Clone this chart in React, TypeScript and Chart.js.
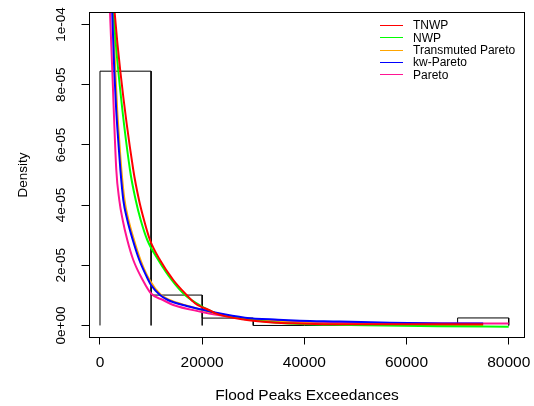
import React, { useEffect, useRef } from 'react';
import { Chart, registerables } from 'chart.js';

Chart.register(...registerables);

// ---- Data ----
const xTickValues = [0, 20000, 40000, 60000, 80000];
const yTickValues = [0, 2e-5, 4e-5, 6e-5, 8e-5, 1e-4];

const binEdges = [0, 10000, 20000, 30000, 40000, 50000, 60000, 70000, 80000];
const binDensity = [8.45e-5, 1.01e-5, 2.45e-6, 0, 0, 0, 0, 2.5e-6];

const tnwpX = [2623, 2858, 3974, 6518, 7634, 8613, 9787, 11744, 14346, 16967, 18592, 19961, 21527, 22506, 28377, 34835, 39140, 44620, 58710, 75000];
const tnwpY = [1.098e-4, 1.042e-4, 8.456e-5, 5.166e-5, 4.169e-5, 3.505e-5, 2.84e-5, 2.175e-5, 1.511e-5, 1.012e-5, 7.4e-6, 6.1e-6, 5.0e-6, 4.1e-6, 1.9e-6, 9.0e-7, 6.7e-7, 4.3e-7, 4.3e-7, 4.0e-7];

const nwpX = [2368, 2603, 3582, 5872, 6988, 7967, 9258, 11412, 14031, 16634, 19961, 22506, 25050, 31312, 39140, 48925, 66147, 80000];
const nwpY = [1.098e-4, 1.042e-4, 8.456e-5, 5.166e-5, 4.169e-5, 3.505e-5, 2.84e-5, 2.175e-5, 1.511e-5, 1.012e-5, 6.3e-6, 4.2e-6, 3.1e-6, 1.5e-6, 5e-7, 1.7e-7, -3e-7, -4e-7];

const tpX = [2447, 2545, 2995, 3367, 3758, 4189, 4796, 5578, 6655, 7927, 9689, 11940, 13601, 17225, 19961, 22506, 28377, 34835, 45011, 58710, 75000];
const tpY = [1.098e-4, 1.042e-4, 8.456e-5, 7.16e-5, 6.163e-5, 5.166e-5, 4.169e-5, 3.505e-5, 2.84e-5, 2.175e-5, 1.511e-5, 1.012e-5, 8.46e-6, 6.47e-6, 5.2e-6, 4.14e-6, 2.2e-6, 1.2e-6, 5e-7, 2.3e-7, 0];

const kwX = [2290, 2388, 2799, 3171, 3562, 3993, 4561, 5344, 6420, 7693, 9455, 9983, 11744, 13308, 16967, 19961, 22506, 28377, 34835, 39140, 46968, 56753, 69806, 75000];
const kwY = [1.098e-4, 1.042e-4, 8.456e-5, 7.16e-5, 6.163e-5, 5.166e-5, 4.169e-5, 3.505e-5, 2.84e-5, 2.175e-5, 1.511e-5, 1.345e-5, 1.012e-5, 8.46e-6, 6.47e-6, 5.3e-6, 4.31e-6, 2.6e-6, 1.9e-6, 1.6e-6, 1.33e-6, 9e-7, 6.7e-7, 6.7e-7];

const paretoX = [1840, 1957, 2408, 3191, 3778, 4443, 5344, 6518, 8358, 9983, 12332, 14348, 19961, 22506, 28377, 34835, 44620, 58710, 75000, 80000];
const paretoY = [1.098e-4, 1.042e-4, 8.456e-5, 5.166e-5, 4.169e-5, 3.505e-5, 2.84e-5, 2.175e-5, 1.511e-5, 1.062e-5, 8.46e-6, 6.8e-6, 4.5e-6, 3.64e-6, 2.3e-6, 1.66e-6, 1.0e-6, 7.7e-7, 6.7e-7, 6.7e-7];

const seriesLabels = ['TNWP', 'NWP', 'Transmuted Pareto', 'kw-Pareto', 'Pareto'];
const seriesColors = ['#ff0000', '#00ff00', '#ffa500', '#0000ff', '#ff1493'];
const seriesDrawOrder = [0, 2, 3, 1, 4];

const xTitle = 'Flood Peaks Exceedances';
const yTitle = 'Density';

const FONT = '"Liberation Sans", Arial, Helvetica, sans-serif';

function pts(xs: number[], ys: number[]) {
  return xs.map((x, i) => ({ x, y: ys[i] }));
}

function histOutline() {
  const out: { x: number; y: number }[] = [];
  for (let i = 0; i < binDensity.length; i++) {
    out.push({ x: binEdges[i], y: 0 });
    out.push({ x: binEdges[i], y: binDensity[i] });
    out.push({ x: binEdges[i + 1], y: binDensity[i] });
    out.push({ x: binEdges[i + 1], y: 0 });
  }
  return out;
}

function fmtExp(v: number) {
  const s = Number(v).toExponential(0);
  const [m, e] = s.split('e');
  const sign = e[0];
  const digits = e.slice(1).padStart(2, '0');
  return m + 'e' + sign + digits;
}

const boxAndLegend = {
  id: 'boxAndLegend',
  afterDraw(chart: any) {
    const { ctx, chartArea } = chart;
    ctx.save();
    ctx.strokeStyle = '#000';
    ctx.lineWidth = 1;
    ctx.strokeRect(chartArea.left, chartArea.top, chartArea.right - chartArea.left, chartArea.bottom - chartArea.top);

    const rowY0 = 25;
    const rowStep = 12.35;
    ctx.font = '12px ' + FONT;
    ctx.textBaseline = 'middle';
    ctx.textAlign = 'left';
    chart.data.datasets.forEach((ds: any) => {
      if (!ds.isCurve) return;
      const y = rowY0 + ds.legendIndex * rowStep;
      ctx.strokeStyle = ds.borderColor;
      ctx.lineWidth = 1;
      ctx.beginPath();
      ctx.moveTo(380, Math.round(y) + 0.5);
      ctx.lineTo(403, Math.round(y) + 0.5);
      ctx.stroke();
      ctx.fillStyle = '#000';
      ctx.fillText(ds.label, 413, y + 1);
    });
    ctx.restore();
  },
};

export default function App() {
  const ref = useRef<HTMLCanvasElement>(null);

  useEffect(() => {
    const curves = [
      pts(tnwpX, tnwpY),
      pts(nwpX, nwpY),
      pts(tpX, tpY),
      pts(kwX, kwY),
      pts(paretoX, paretoY),
    ];
    const datasets: any[] = curves.map((data, i) => ({
      label: seriesLabels[i],
      data,
      borderColor: seriesColors[i],
      backgroundColor: seriesColors[i],
      borderWidth: 2,
      pointRadius: 0,
      cubicInterpolationMode: 'monotone',
      fill: false,
      clip: 0,
      order: seriesDrawOrder[i],
      isCurve: true,
      legendIndex: i,
    }));
    datasets.push({
      label: 'hist',
      data: histOutline(),
      borderColor: '#000',
      borderWidth: 1,
      pointRadius: 0,
      tension: 0,
      fill: false,
      order: 10,
      isCurve: false,
    });

    const chart = new Chart(ref.current!, {
      type: 'line',
      data: { datasets },
      options: {
        animation: false,
        responsive: false,
        devicePixelRatio: 1,
        layout: { padding: { top: 12.5, right: 9.5, left: 0, bottom: 0 } },
        plugins: { legend: { display: false }, tooltip: { enabled: false } },
        scales: {
          x: {
            type: 'linear',
            min: -2055,
            max: 83093,
            afterBuildTicks: (s: any) => {
              s.ticks = xTickValues.map((v) => ({ value: v }));
            },
            afterFit: (s: any) => {
              s.height = 68.5;
              s.paddingLeft = 0;
              s.paddingRight = 0;
            },
            border: { display: false },
            grid: { display: true, drawOnChartArea: false, drawTicks: true, tickLength: 7, color: '#000', lineWidth: 1 },
            ticks: {
              autoSkip: false,
              maxRotation: 0,
              minRotation: 0,
              padding: 9,
              color: '#000',
              font: { family: FONT, size: 15.5 },
              callback: (v: any) => String(v),
            },
            title: {
              display: true,
              text: xTitle,
              color: '#000',
              font: { family: FONT, size: 15.5 },
              padding: { top: 0, bottom: 1.2 },
            },
          },
          y: {
            type: 'linear',
            min: -4e-6,
            max: 1.04e-4,
            afterBuildTicks: (s: any) => {
              s.ticks = yTickValues.map((v) => ({ value: v }));
            },
            afterFit: (s: any) => {
              s.width = 89.5;
              s.paddingTop = 0;
              s.paddingBottom = 0;
            },
            border: { display: false },
            grid: { display: true, drawOnChartArea: false, drawTicks: true, tickLength: 8, color: '#000', lineWidth: 1 },
            ticks: {
              autoSkip: false,
              minRotation: 90,
              maxRotation: 90,
              crossAlign: 'center',
              padding: 1,
              color: '#000',
              font: { family: FONT, size: 13.5 },
              callback: (v: any) => fmtExp(Number(v)),
            },
            title: {
              display: true,
              text: yTitle,
              color: '#000',
              font: { family: FONT, size: 13.5 },
              padding: { top: 15.4, bottom: 0 },
            },
          },
        },
      } as any,
      plugins: [boxAndLegend],
    });
    return () => chart.destroy();
  }, []);

  return (
    <div style={{ position: 'fixed', left: 0, top: 0, width: 534, height: 406, background: '#fff' }}>
      <canvas ref={ref} width={534} height={406} style={{ display: 'block', width: 534, height: 406 }} />
    </div>
  );
}
